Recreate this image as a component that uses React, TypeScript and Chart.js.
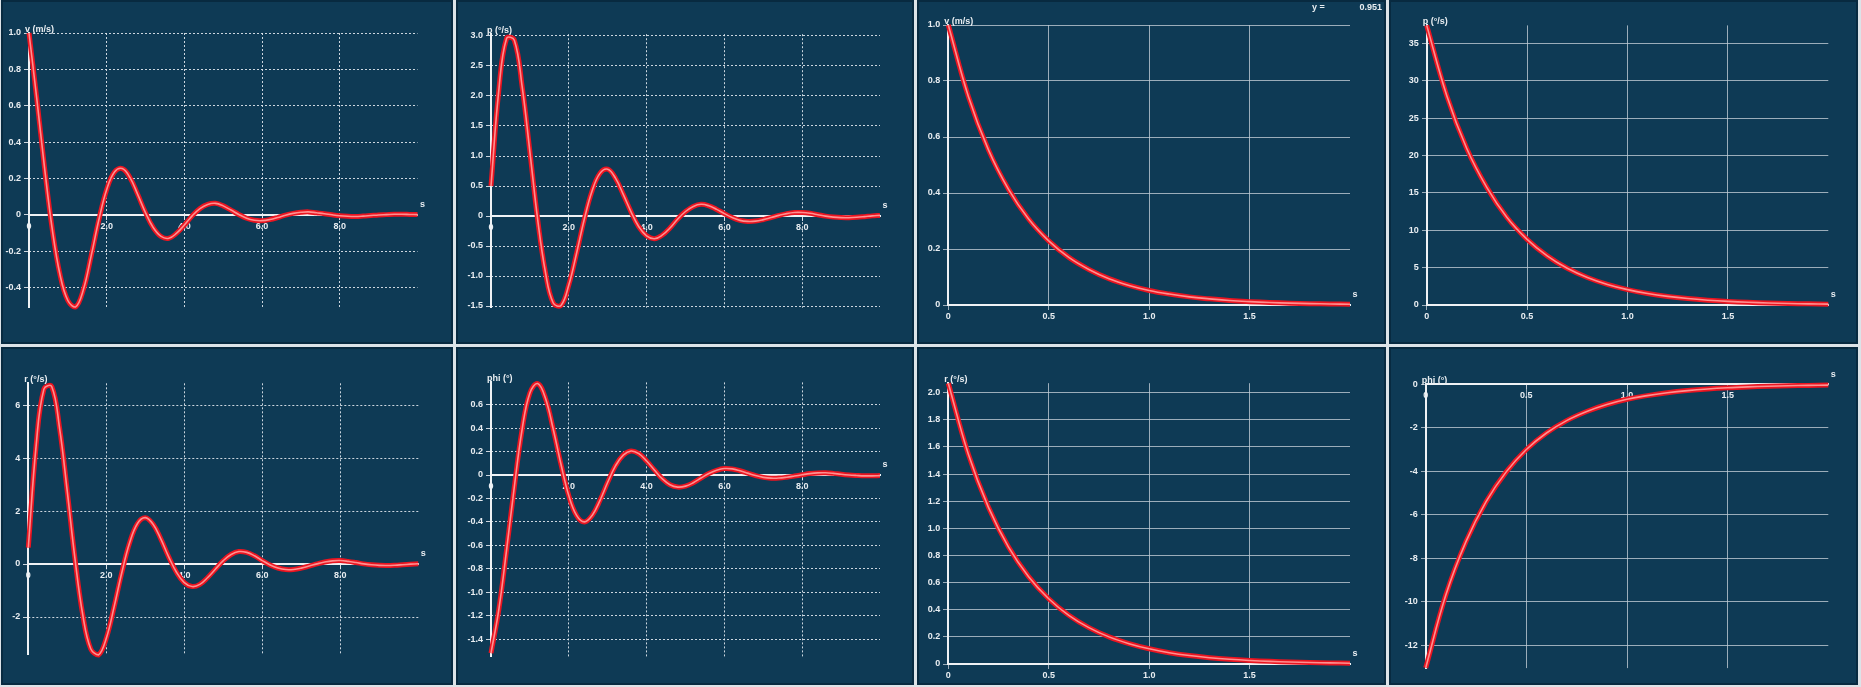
import React, { useEffect, useRef } from 'react';
import { Chart, registerables } from 'chart.js';

Chart.register(...registerables);

// ---------- data ----------
const T_LONG = [0, 0.2, 0.4, 0.6, 0.8, 1, 1.2, 1.4, 1.6, 1.8, 2, 2.2, 2.4, 2.6, 2.8, 3, 3.2, 3.4, 3.6, 3.8, 4, 4.2, 4.4, 4.6, 4.8, 5, 5.2, 5.4, 5.6, 5.8, 6, 6.2, 6.4, 6.6, 6.8, 7, 7.2, 7.4, 7.6, 7.8, 8, 8.2, 8.4, 8.6, 8.8, 9, 9.2, 9.4, 9.6, 9.8, 10];
const T_SHORT = [0, 0.1, 0.2, 0.3, 0.4, 0.5, 0.6, 0.7, 0.8, 0.9, 1, 1.1, 1.2, 1.3, 1.4, 1.5, 1.6, 1.7, 1.8, 1.9, 2];

const V_OSC = [1.0, 0.64, 0.26, -0.08, -0.33, -0.47, -0.505, -0.41, -0.225, -0.025, 0.14, 0.236, 0.255, 0.205, 0.112, 0.012, -0.07, -0.118, -0.128, -0.1, -0.055, -0.005, 0.035, 0.058, 0.064, 0.05, 0.027, 0.003, -0.018, -0.029, -0.031, -0.025, -0.014, -0.001, 0.009, 0.015, 0.017, 0.012, 0.007, 0.001, -0.004, -0.007, -0.008, -0.006, -0.003, 0, 0.002, 0.004, 0.004, 0.003, 0.002];
const P_OSC = [0.5, 2.09, 2.96, 2.93, 2.16, 1.07, -0.06, -0.94, -1.45, -1.49, -1.15, -0.62, -0.05, 0.42, 0.71, 0.78, 0.63, 0.36, 0.07, -0.18, -0.33, -0.38, -0.32, -0.2, -0.05, 0.075, 0.16, 0.195, 0.17, 0.11, 0.04, -0.026, -0.073, -0.09, -0.085, -0.06, -0.026, 0.01, 0.04, 0.058, 0.058, 0.045, 0.022, -0.002, -0.018, -0.027, -0.028, -0.022, -0.011, 0.002, 0.01];
const R_OSC = [0.62, 4.45, 6.6, 6.7, 5.15, 2.73, 0.16, -1.95, -3.2, -3.43, -2.8, -1.62, -0.31, 0.81, 1.53, 1.75, 1.5, 0.94, 0.27, -0.31, -0.7, -0.85, -0.77, -0.51, -0.19, 0.13, 0.36, 0.47, 0.44, 0.31, 0.13, -0.035, -0.15, -0.21, -0.205, -0.155, -0.078, 0.005, 0.075, 0.12, 0.13, 0.1, 0.055, 0.005, -0.03, -0.05, -0.055, -0.045, -0.026, -0.006, 0.012];
const PHI_OSC = [-1.52, -1.15, -0.64, -0.1, 0.39, 0.7, 0.78, 0.655, 0.39, 0.09, -0.176, -0.345, -0.4, -0.345, -0.218, -0.062, 0.078, 0.17, 0.205, 0.182, 0.12, 0.043, -0.031, -0.083, -0.103, -0.095, -0.066, -0.026, 0.013, 0.04, 0.055, 0.052, 0.036, 0.016, -0.005, -0.02, -0.027, -0.026, -0.019, -0.009, 0.002, 0.012, 0.018, 0.019, 0.014, 0.006, 0, -0.004, -0.007, -0.007, -0.005];

const V_EXP = [1.0, 0.745, 0.554, 0.413, 0.307, 0.229, 0.17, 0.127, 0.094, 0.07, 0.052, 0.039, 0.029, 0.022, 0.016, 0.012, 0.009, 0.0066, 0.0049, 0.0037, 0.0027];
const P_EXP = [37.4, 28.0, 20.9, 15.7, 11.7, 8.78, 6.57, 4.91, 3.68, 2.75, 2.06, 1.54, 1.15, 0.86, 0.645, 0.483, 0.361, 0.27, 0.202, 0.151, 0.113];
const R_EXP = [2.07, 1.546, 1.155, 0.862, 0.644, 0.481, 0.359, 0.268, 0.2, 0.15, 0.112, 0.0835, 0.0624, 0.0466, 0.0348, 0.026, 0.0194, 0.0145, 0.0108, 0.0081, 0.006];
const PHI_EXP = [-13.05, -9.7, -7.24, -5.4, -4.03, -3.0, -2.24, -1.67, -1.25, -0.93, -0.69, -0.52, -0.39, -0.29, -0.215, -0.16, -0.12, -0.09, -0.067, -0.05, -0.037];

const SERIES = [V_OSC, P_OSC, V_EXP, P_EXP, R_OSC, PHI_OSC, R_EXP, PHI_EXP];
const TIMES = [T_LONG, T_LONG, T_SHORT, T_SHORT, T_LONG, T_LONG, T_SHORT, T_SHORT];

const AXIS_NAMES = ['v (m/s)', 'p (°/s)', 'v (m/s)', 'p (°/s)', 'r (°/s)', 'phi (°)', 'r (°/s)', 'phi (°)'];
const X_UNIT = 's';
const READOUT_LABEL = 'y =';
const READOUT_VALUE = '0.951';

const X_TICKS_LONG = [0, 2, 4, 6, 8];
const X_TICKS_SHORT = [0, 0.5, 1, 1.5];
const X_TICKS = [X_TICKS_LONG, X_TICKS_LONG, X_TICKS_SHORT, X_TICKS_SHORT, X_TICKS_LONG, X_TICKS_LONG, X_TICKS_SHORT, X_TICKS_SHORT];
const X_MAX = [10, 10, 2, 2, 10, 10, 2, 2];

const Y_TICKS = [
  [-0.4, -0.2, 0, 0.2, 0.4, 0.6, 0.8, 1.0],
  [-1.5, -1, -0.5, 0, 0.5, 1, 1.5, 2, 2.5, 3],
  [0, 0.2, 0.4, 0.6, 0.8, 1.0],
  [0, 5, 10, 15, 20, 25, 30, 35],
  [-2, 0, 2, 4, 6],
  [-1.4, -1.2, -1, -0.8, -0.6, -0.4, -0.2, 0, 0.2, 0.4, 0.6],
  [0, 0.2, 0.4, 0.6, 0.8, 1.0, 1.2, 1.4, 1.6, 1.8, 2.0],
  [-12, -10, -8, -6, -4, -2, 0],
];
const Y_MIN = [-0.51, -1.53, 0, 0, -3.43, -1.55, 0, -13.06];
const Y_MAX = [1.0, 3.03, 1.0, 37.4, 6.82, 0.79, 2.07, 0];
const Y_DEC = [1, 1, 1, 0, 0, 1, 1, 0];

// ---------- layout / style ----------
// box: outer left, top, right, bottom; area: plot left, right, top, bottom (page px)
const GEO = [
  { box: [1, 0, 453, 344], area: [29, 417.5, 33, 307.8] },
  { box: [456, 0, 914, 344], area: [491, 880, 34.2, 307.8] },
  { box: [917, 0, 1386, 344], area: [948.3, 1350, 25, 305] },
  { box: [1389, 0, 1858, 344], area: [1426.7, 1828.3, 25.4, 305] },
  { box: [1, 347, 453, 685], area: [28.3, 418.3, 383.3, 654.9] },
  { box: [456, 347, 914, 685], area: [491, 880, 382.4, 656.7] },
  { box: [917, 347, 1386, 685], area: [948.3, 1350, 383.2, 664] },
  { box: [1389, 347, 1858, 685], area: [1425.7, 1828.3, 384.3, 668.1] },
];
const BW = 2;
const BG = '#0e3a55';
const EDGE = '#082a40';
const SEP = '#dce3e8';
const AXIS = '#eef2f5';
const GRID_DOT = 'rgba(225,232,238,0.9)';
const GRID_SOLID = 'rgba(195,206,215,0.78)';
const TEXT = '#e9eef2';
const RED = '#ea1420';
const CORE = '#ff9090';
const FONT_FAMILY = '"Liberation Sans", Arial, sans-serif';
const FONT = 'bold 9px ' + FONT_FAMILY;

function fmt(v: number, dec: number) {
  if (Math.abs(v) < 1e-9) return '0';
  return v.toFixed(dec);
}

function textPlugin(i: number) {
  return {
    id: 'panelText' + i,
    beforeDatasetsDraw(chart: any) {
      const { ctx, scales } = chart;
      const x0 = scales.x.getPixelForValue(0);
      ctx.save();
      ctx.fillStyle = TEXT;
      ctx.font = FONT;
      ctx.textAlign = 'right';
      ctx.textBaseline = 'middle';
      for (const t of scales.y.ticks) {
        ctx.fillText(fmt(t.value, Y_DEC[i]), x0 - 8, scales.y.getPixelForValue(t.value));
      }
      ctx.restore();
    },
    afterDraw(chart: any) {
      const { ctx, chartArea, scales } = chart;
      const x0 = scales.x.getPixelForValue(0);
      const y0 = scales.y.getPixelForValue(0);
      ctx.save();
      ctx.fillStyle = TEXT;
      ctx.font = FONT;
      ctx.textAlign = 'left';
      ctx.textBaseline = 'alphabetic';
      ctx.fillText(AXIS_NAMES[i], x0 - 4, chartArea.top - 1);
      ctx.textAlign = 'center';
      ctx.textBaseline = 'middle';
      ctx.fillText(X_UNIT, chartArea.right + 5, y0 - 10);
      if (i === 2) {
        ctx.textAlign = 'left';
        ctx.fillText(READOUT_LABEL, chart.width - 72, 6);
        ctx.textAlign = 'right';
        ctx.fillText(READOUT_VALUE, chart.width - 2, 6);
      }
      ctx.restore();
    },
  };
}

function Panel({ i }: { i: number }) {
  const ref = useRef<HTMLCanvasElement | null>(null);
  const [bl, bt, br, bb] = GEO[i].box;
  const w = br - bl - 2 * BW;
  const h = bb - bt - 2 * BW;

  useEffect(() => {
    const canvas = ref.current;
    if (!canvas) return;
    const ox = bl + BW;
    const oy = bt + BW;
    const [al, ar, at, ab] = GEO[i].area;
    const xs = TIMES[i];
    const ys = SERIES[i];
    const pts = xs.map((x, k) => ({ x, y: ys[k] }));
    const dotted = i % 4 < 2;
    const gridColor = dotted ? GRID_DOT : GRID_SOLID;
    const tickFont = { family: FONT_FAMILY, size: 9, weight: 'bold' as const };

    const chart = new Chart(canvas, {
      type: 'line',
      data: {
        datasets: [
          { data: pts, borderColor: CORE, borderWidth: 1.6, pointRadius: 0, tension: 0.4, clip: false as any, fill: false },
          { data: pts, borderColor: RED, borderWidth: 5, pointRadius: 0, tension: 0.4, clip: false as any, fill: false },
        ],
      },
      options: {
        animation: false,
        responsive: false,
        maintainAspectRatio: false,
        events: [],
        layout: {
          padding: {
            left: al - ox,
            right: ox + w - ar,
            top: at - oy,
            bottom: oy + h - ab,
          },
        },
        plugins: { legend: { display: false }, tooltip: { enabled: false }, title: { display: false } },
        scales: {
          x: {
            type: 'linear',
            position: { y: 0 } as any,
            min: 0,
            max: X_MAX[i],
            afterFit: (s: any) => { s.height = 0; },
            afterBuildTicks: (s: any) => { s.ticks = X_TICKS[i].map((v) => ({ value: v })); },
            ticks: {
              autoSkip: false,
              maxRotation: 0,
              padding: 2,
              color: TEXT,
              font: tickFont,
              callback: (v: any) => fmt(Number(v), 1),
            },
            grid: { color: gridColor, lineWidth: 1, drawTicks: true, tickLength: 4, tickColor: gridColor },
            border: { display: true, color: AXIS, width: 2, dash: dotted ? [2, 2] : [] },
          },
          y: {
            type: 'linear',
            position: { x: 0 } as any,
            min: Y_MIN[i],
            max: Y_MAX[i],
            afterFit: (s: any) => { s.width = 0; },
            afterBuildTicks: (s: any) => { s.ticks = Y_TICKS[i].map((v) => ({ value: v })); },
            ticks: { display: false, autoSkip: false },
            grid: { color: gridColor, lineWidth: 1, drawTicks: true, tickLength: 4, tickColor: gridColor },
            border: { display: true, color: AXIS, width: 2, dash: dotted ? [2, 2] : [] },
          },
        },
      } as any,
      plugins: [textPlugin(i)],
    });
    return () => chart.destroy();
  }, []);

  return (
    <div
      style={{
        position: 'absolute',
        left: bl,
        top: bt,
        width: w,
        height: h,
        border: `${BW}px solid ${EDGE}`,
        background: BG,
      }}
    >
      <canvas ref={ref} width={w} height={h} style={{ display: 'block', width: w, height: h }} />
    </div>
  );
}

export default function App() {
  useEffect(() => {
    document.body.style.margin = '0';
  }, []);
  return (
    <div
      style={{
        position: 'fixed',
        left: 0,
        top: 0,
        width: 1861,
        height: 687,
        background: SEP,
        overflow: 'hidden',
      }}
    >
      {GEO.map((_, i) => (
        <Panel key={i} i={i} />
      ))}
    </div>
  );
}
